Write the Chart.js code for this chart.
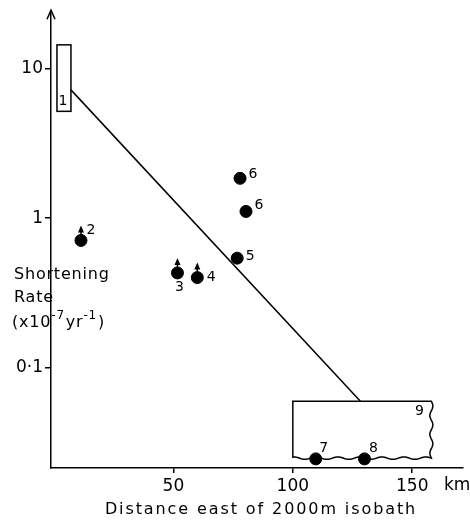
<!DOCTYPE html>
<html lang="en">
<head>
<meta charset="UTF-8">
<title>Shortening Rate vs Distance</title>
<script src="https://cdn.jsdelivr.net/npm/chart.js"></script>
<style>
  html, body { margin: 0; padding: 0; background: #fff; }
</style>
</head>
<body>
<canvas id="chart" width="470" height="520"></canvas>
<script>
  // sites: distance east of 2000 m isobath (km), shortening rate (x1e-7 /yr)
  const siteLabels = ['2', '3', '4', '5', '6', '6', '7', '8'];
  const siteDist   = [11.3, 51.7, 60, 76.7, 77.9, 80.4, 109.6, 130];
  const siteRate   = [0.71, 0.43, 0.40, 0.54, 1.85, 1.11, 0.0244, 0.0244];
  const siteIsMin  = [true, true, true, false, false, false, false, false];

  // trend line and the two range boxes (1 and 9)
  const trendDist = [7.1, 128.3];
  const trendRate = [7.24, 0.0593];
  const box1Dist = [1.25, 7.1];
  const box1Rate = [5.2, 14.5];
  const box9Dist = [100, 158];
  const box9Rate = [0.0247, 0.0593];

  const xTicks = [50, 100, 150];
  const xTickLabels = ['50', '100', '150'];
  const yTicks = [0.1, 1, 10];
  const yTickLabels = ['0·1', '1', '10'];

  const FONT = '"DejaVu Sans", sans-serif';

  // label offsets (px) from each site dot
  const labelOffset = [[10, -10], [2, 14], [14, 0], [13, -2], [13, -4], [13, -6], [8, -11], [9, -11]];

  const extras = {
    id: 'extras',
    afterDatasetsDraw(chart) {
      const ctx = chart.ctx;
      const xs = chart.scales.x, ys = chart.scales.y;
      const ca = chart.chartArea;
      ctx.save();
      ctx.strokeStyle = '#000';
      ctx.fillStyle = '#000';
      ctx.lineWidth = 1.5;

      // box 1
      const b1x0 = xs.getPixelForValue(box1Dist[0]), b1x1 = xs.getPixelForValue(box1Dist[1]);
      const b1y0 = ys.getPixelForValue(box1Rate[1]), b1y1 = ys.getPixelForValue(box1Rate[0]);
      ctx.strokeRect(b1x0, b1y0, b1x1 - b1x0, b1y1 - b1y0);

      // box 9, wavy right and bottom edges
      const b9x0 = xs.getPixelForValue(box9Dist[0]), b9x1 = xs.getPixelForValue(box9Dist[1]);
      const b9y0 = ys.getPixelForValue(box9Rate[1]), b9y1 = ys.getPixelForValue(box9Rate[0]);
      ctx.beginPath();
      ctx.moveTo(b9x0, b9y1);
      ctx.lineTo(b9x0, b9y0);
      ctx.lineTo(b9x1, b9y0);
      for (let y = b9y0; y <= b9y1; y += 1) {
        ctx.lineTo(b9x1 + 1.5 * Math.sin((y - b9y0) / 3), y);
      }
      for (let x = b9x1; x >= b9x0; x -= 1) {
        ctx.lineTo(x, b9y1 + 1.2 * Math.sin((x - b9x1) / 3.5));
      }
      ctx.stroke();

      // upward arrows for lower-bound sites
      siteDist.forEach((d, i) => {
        if (!siteIsMin[i]) return;
        const px = xs.getPixelForValue(d), py = ys.getPixelForValue(siteRate[i]);
        ctx.beginPath();
        ctx.moveTo(px, py - 4);
        ctx.lineTo(px, py - 12);
        ctx.stroke();
        ctx.beginPath();
        ctx.moveTo(px, py - 15);
        ctx.lineTo(px - 3, py - 8);
        ctx.lineTo(px + 3, py - 8);
        ctx.closePath();
        ctx.fill();
      });

      // site labels
      ctx.font = '14px ' + FONT;
      ctx.textAlign = 'center';
      ctx.textBaseline = 'middle';
      siteDist.forEach((d, i) => {
        const px = xs.getPixelForValue(d), py = ys.getPixelForValue(siteRate[i]);
        ctx.fillText(siteLabels[i], px + labelOffset[i][0], py + labelOffset[i][1]);
      });
      ctx.fillText('1', b1x0 + 6, b1y1 - 10);
      ctx.fillText('9', b9x1 - 12, b9y0 + 10);

      // y-axis arrowhead
      ctx.beginPath();
      ctx.moveTo(ca.left - 4, ca.top + 7);
      ctx.lineTo(ca.left, ca.top - 2);
      ctx.lineTo(ca.left + 4, ca.top + 7);
      ctx.stroke();
      ctx.beginPath();
      ctx.moveTo(ca.left, ca.top);
      ctx.lineTo(ca.left, ca.top - 2);
      ctx.stroke();

      // axis titles
      ctx.textAlign = 'left';
      ctx.font = '17px ' + FONT;
      ctx.fillText('km', 444, 486);
      ctx.font = '16px ' + FONT;
      ctx.letterSpacing = '1.9px';
      ctx.textAlign = 'center';
      ctx.fillText('Distance east of 2000m isobath', 261, 510);
      ctx.textAlign = 'left';
      ctx.letterSpacing = '0.8px';
      ctx.fillText('Shortening', 14, 275);
      ctx.fillText('Rate', 14, 298);
      let x = 12;
      const base = 323;
      const seg = (t, sup) => {
        ctx.font = (sup ? '12px ' : '16px ') + FONT;
        ctx.fillText(t, x, sup ? base - 7 : base);
        x += ctx.measureText(t).width + (sup ? 1 : 0);
      };
      seg('(x10'); seg('-7', true); seg('yr'); seg('-1', true); seg(')');
      ctx.restore();
    }
  };

  new Chart(document.getElementById('chart'), {
    type: 'scatter',
    data: {
      datasets: [
        {
          data: trendDist.map((d, i) => ({ x: d, y: trendRate[i] })),
          showLine: true,
          borderColor: '#000',
          borderWidth: 1.5,
          pointRadius: 0
        },
        {
          data: siteDist.map((d, i) => ({ x: d, y: siteRate[i] })),
          backgroundColor: '#000',
          borderColor: '#000',
          pointRadius: 6
        }
      ]
    },
    options: {
      responsive: false,
      animation: false,
      layout: { padding: { top: 10, right: 5, left: 0, bottom: 0 } },
      plugins: { legend: { display: false }, tooltip: { enabled: false } },
      scales: {
        x: {
          type: 'linear',
          min: -1.25,
          max: 171.25,
          afterBuildTicks: s => { s.ticks = xTicks.map(v => ({ value: v })); },
          afterFit: s => { s.height = 52; },
          ticks: {
            color: '#000',
            font: { size: 17, family: FONT },
            padding: 3,
            maxRotation: 0,
            autoSkip: false,
            callback: v => xTickLabels[xTicks.indexOf(v)]
          },
          grid: { drawOnChartArea: false, drawTicks: true, tickLength: 5, color: '#000', lineWidth: 1.5 },
          border: { color: '#000', width: 1.5 }
        },
        y: {
          type: 'logarithmic',
          min: 0.0212,
          max: 24,
          afterBuildTicks: s => { s.ticks = yTicks.map(v => ({ value: v })); },
          afterFit: s => { s.width = 51; },
          ticks: {
            color: '#000',
            font: { size: 17, family: FONT },
            padding: 2,
            autoSkip: false,
            callback: v => yTickLabels[yTicks.indexOf(v)]
          },
          grid: { drawOnChartArea: false, drawTicks: true, tickLength: 6, color: '#000', lineWidth: 1.5 },
          border: { color: '#000', width: 1.5 }
        }
      }
    },
    plugins: [extras]
  });
</script>
</body>
</html>
